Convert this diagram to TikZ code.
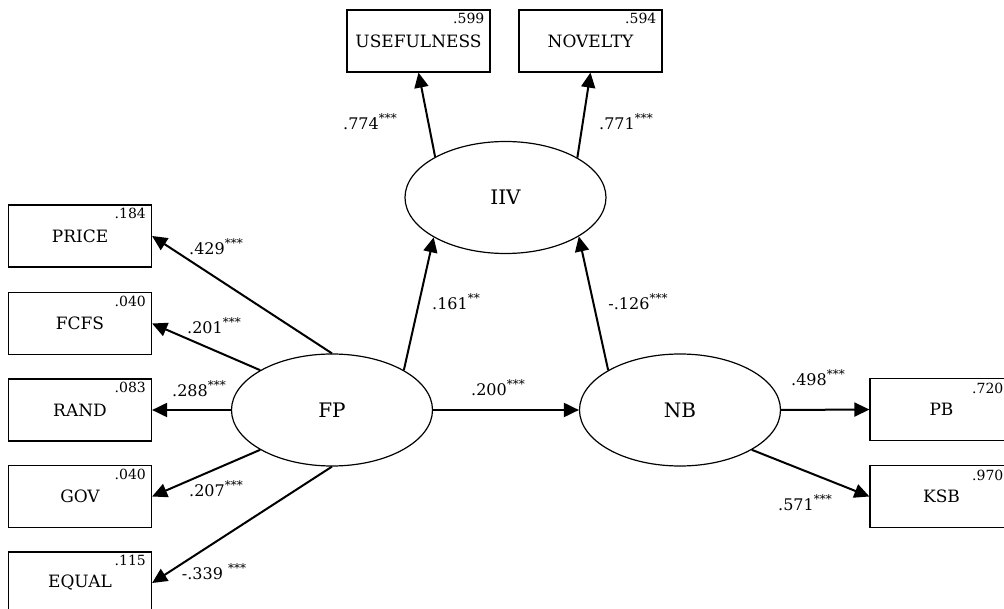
\documentclass[tikz,border=0pt]{standalone}
\usepackage{fontspec}
\setmainfont{DejaVu Serif}
\usetikzlibrary{positioning,shapes.geometric,arrows.meta}

\newcommand{\stars}[1]{\raisebox{0.42em}{\fontsize{12}{12}\selectfont #1}}

\tikzset{
	obs/.style={draw, line width=1.2pt, minimum width=143pt, minimum height=62pt, inner sep=0pt, font=\fontsize{17}{17}\selectfont},
	lat/.style={draw, ellipse, line width=1.2pt, minimum width=201pt, minimum height=112pt, inner sep=0pt, font=\fontsize{20}{20}\selectfont},
	load/.style={line width=2pt, -{Triangle[length=15pt,width=14pt]}},
	coef/.style={inner sep=0pt, font=\fontsize{16}{16}\selectfont},
	rsq/.style={inner sep=0pt, anchor=north east, font=\fontsize{14}{14}\selectfont},
}

\begin{document}
\begin{tikzpicture}[x=1pt, y=-1pt]
	\useasboundingbox (0,0) rectangle (1004,609);

	% Instances/Symbols:
	\node[obs] (price) at (80, 236) {PRICE};
	\node[obs] (fcfs) at (80, 323.5) {FCFS};
	\node[obs] (rand) at (80, 410) {RAND};
	\node[obs] (gov) at (80, 496.5) {GOV};
	\node[obs] (equal) at (80, 583) {EQUAL};

	\node[obs] (useful) at (418.5, 41) {USEFULNESS};
	\node[obs] (novel) at (590.5, 41) {NOVELTY};

	\node[obs] (pb) at (941.5, 409.5) {PB};
	\node[obs] (ksb) at (941.5, 496.5) {KSB};

	\node[lat] (fp) at (332, 410) {FP};
	\node[lat] (nb) at (680, 410) {NB};
	\node[lat] (iiv) at (505.5, 197.5) {IIV};

	% Lines:
	\draw[load] (fp.north) -- (price.east);
	\draw[load] (fp.151) -- (fcfs.east);
	\draw[load] (fp.west) -- (rand.east);
	\draw[load] (fp.209) -- (gov.east);
	\draw[load] (fp.south) -- (equal.east);
	\draw[load] (fp.29) -- (iiv.209);
	\draw[load] (nb.151) -- (iiv.332);
	\draw[load] (fp.east) -- (nb.west);
	\draw[load] (iiv.150) -- (useful.south);
	\draw[load] (iiv.29) -- (novel.south);
	\draw[load] (nb.east) -- (pb.west);
	\draw[load] (nb.331) -- (ksb.west);

	% Labels
	\node[coef] (c-price) at (216, 247) {.429\stars{***}};
	\node[coef] (c-fcfs) at (214, 326) {.201\stars{***}};
	\node[coef] (c-rand) at (199, 389) {.288\stars{***}};
	\node[coef] (c-gov) at (216, 489) {.207\stars{***}};
	\node[coef] (c-equal) at (214, 572) {-.339 \stars{***}};
	\node[coef] (c-useful) at (370, 122) {.774\stars{***}};
	\node[coef] (c-novel) at (626, 122) {.771\stars{***}};
	\node[coef] (c-fpiiv) at (456, 302) {.161\stars{**}};
	\node[coef] (c-nbiiv) at (638, 302) {-.126\stars{***}};
	\node[coef] (c-fpnb) at (498, 388) {.200\stars{***}};
	\node[coef] (c-pb) at (818, 378) {.498\stars{***}};
	\node[coef] (c-ksb) at (805, 503) {.571\stars{***}};

	\node[rsq] (r-price) at ([xshift=-6pt, yshift=-4pt]price.north east) {.184};
	\node[rsq] (r-fcfs) at ([xshift=-6pt, yshift=-4pt]fcfs.north east) {.040};
	\node[rsq] (r-rand) at ([xshift=-6pt, yshift=-4pt]rand.north east) {.083};
	\node[rsq] (r-gov) at ([xshift=-6pt, yshift=-4pt]gov.north east) {.040};
	\node[rsq] (r-equal) at ([xshift=-6pt, yshift=-4pt]equal.north east) {.115};
	\node[rsq] (r-useful) at ([xshift=-6pt, yshift=-4pt]useful.north east) {.599};
	\node[rsq] (r-novel) at ([xshift=-6pt, yshift=-4pt]novel.north east) {.594};
	\node[rsq] (r-pb) at ([xshift=-10pt, yshift=-5pt]pb.north east) {.720};
	\node[rsq] (r-ksb) at ([xshift=-10pt, yshift=-5pt]ksb.north east) {.970};

\end{tikzpicture}
\end{document}
